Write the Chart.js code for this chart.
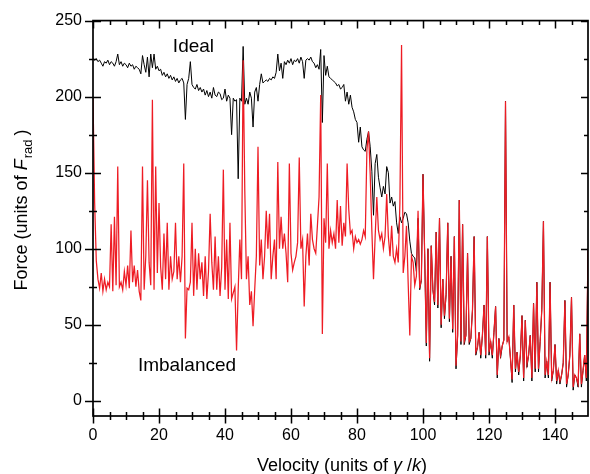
<!DOCTYPE html>
<html>
<head>
<meta charset="utf-8">
<script src="https://cdn.jsdelivr.net/npm/chart.js@4.4.1/dist/chart.umd.min.js"></script>
<style>
html,body{margin:0;padding:0;background:#fff;}
canvas{display:block;}
</style>
</head>
<body>
<canvas id="c" width="590" height="474"></canvas>
<script>
// ---- data (Force in units of F_rad, sampled every 0.5 velocity units from 0 to 150) ----
const velocityStep = 0.5;

const imbalancedForce = [
  200,130,92,80,74,84,72,80,73,78,75,116,72,121,76,154,75,78,73,85,
  76,89,74,112,78,89,75,86,72,66,154,73,95,145,91,76,198,73,154,84,
  130,88,73,110,80,117,73,95,80,85,117,80,95,78,95,156,41,74,73,78,
  117,69,100,73,97,80,91,69,95,67,85,123,91,73,108,73,95,69,88,152,
  73,106,67,117,67,71,75,33,73,106,80,224,138,80,95,63,72,49,73,95,
  167,89,106,80,95,125,100,123,80,95,106,80,157,100,121,100,110,97,78,156,
  97,86,91,95,104,160,100,106,62,95,110,89,123,106,100,97,115,134,201,44,
  120,104,156,100,112,104,110,100,132,104,128,102,117,108,156,126,110,112,100,108,
  104,106,103,106,112,108,165,177,149,112,80,108,134,112,106,110,100,108,136,108,
  95,115,95,91,100,91,130,234,84,95,115,78,43,95,91,76,82,125,74,80,
  149,97,38,100,28,102,73,65,111,63,120,50,80,56,70,117,54,95,47,108,
  23,43,132,39,116,39,43,97,39,41,60,108,32,35,45,30,43,63,30,108,
  32,39,30,45,62,17,41,30,36,40,197,39,42,28,14,63,21,32,19,30,
  56,15,53,24,30,43,15,64,21,78,21,39,60,118,17,26,17,78,15,20,
  37,13,20,13,17,25,66,11,17,30,68,9,17,15,11,44,11,20,30,15,
  100
];

const idealForce = [
  225,224,225,223,224,222,220,223,222,224,221,223,222,220,223,228,221,223,220,222,
  221,219,222,220,221,218,220,219,218,215,227,221,216,226,213,228,219,228,218,220,
  217,218,214,216,213,215,212,214,211,213,210,212,209,211,212,209,185,208,212,223,
  208,206,205,208,204,206,203,205,201,204,200,203,199,206,201,200,203,202,198,199,
  205,197,201,199,175,199,197,198,146,199,197,233,195,199,195,203,199,180,203,206,
  197,208,215,209,210,211,210,212,211,213,212,216,228,217,222,212,223,221,224,222,
  225,221,224,223,225,222,226,223,212,224,225,224,226,223,222,219,221,218,231,183,
  227,214,220,213,212,211,210,209,207,208,205,206,208,197,203,195,201,193,190,185,
  183,170,180,167,165,164,172,177,167,151,122,156,162,147,140,134,141,136,154,150,
  130,134,128,131,117,110,121,117,120,124,123,117,105,97,95,94,85,120,73,79,
  149,97,36,100,26,102,73,63,111,61,120,48,80,54,70,117,52,95,45,108,
  21,43,132,37,116,37,43,97,37,41,60,108,30,35,45,28,43,63,28,108,
  30,39,28,45,62,15,41,28,36,40,197,39,42,28,12,63,19,32,17,30,
  56,13,53,22,30,43,13,64,19,78,19,39,60,118,15,26,15,78,13,20,
  37,11,20,11,17,25,66,9,17,30,68,7,17,15,9,44,9,20,30,13,
  100
];

const xTickLabels = [0,20,40,60,80,100,120,140];
const xMinorTicks = [5,10,15,25,30,35,45,50,55,65,70,75,85,90,95,105,110,115,125,130,135,145];
const yTickLabels = [0,50,100,150,200,250];
const yMinorTicks = [25,75,125,175,225];

const seriesNames = ['Imbalanced','Ideal'];

// ---- build ----
function toPoints(arr){ return arr.map((v,i)=>({x:i*velocityStep, y:v})); }

const FONT = "'Liberation Sans', Arial, sans-serif";

const framePlugin = {
  id:'frame',
  afterDatasetsDraw(chart){
    const ctx = chart.ctx, a = chart.chartArea;
    const xs = chart.scales.x, ys = chart.scales.y;
    ctx.save();
    ctx.strokeStyle = '#000';
    ctx.lineWidth = 1.7;
    ctx.lineCap = 'butt';
    ctx.strokeRect(a.left, a.top, a.right - a.left, a.bottom - a.top);
    ctx.lineWidth = 1.5;
    ctx.beginPath();
    xTickLabels.forEach(v=>{
      const p = Math.round(xs.getPixelForValue(v))+0.5;
      ctx.moveTo(p, a.bottom-7.5); ctx.lineTo(p, a.bottom+7.5);
      ctx.moveTo(p, a.top); ctx.lineTo(p, a.top+8);
    });
    xMinorTicks.forEach(v=>{
      const p = Math.round(xs.getPixelForValue(v))+0.5;
      ctx.moveTo(p, a.bottom-4); ctx.lineTo(p, a.bottom+4);
      ctx.moveTo(p, a.top); ctx.lineTo(p, a.top+4.5);
    });
    yTickLabels.forEach(v=>{
      const p = Math.round(ys.getPixelForValue(v))+0.5;
      ctx.moveTo(a.left-8, p); ctx.lineTo(a.left+8, p);
      ctx.moveTo(a.right, p); ctx.lineTo(a.right-7, p);
    });
    yMinorTicks.forEach(v=>{
      const p = Math.round(ys.getPixelForValue(v))+0.5;
      ctx.moveTo(a.left-4, p); ctx.lineTo(a.left+4, p);
      ctx.moveTo(a.right, p); ctx.lineTo(a.right-4, p);
    });
    ctx.stroke();

    ctx.fillStyle = '#000';
    ctx.font = '19px ' + FONT;
    ctx.textBaseline = 'alphabetic';
    ctx.textAlign = 'left';
    ctx.fillText(seriesNames[1], xs.getPixelForValue(24.2), ys.getPixelForValue(229.5));
    ctx.fillText(seriesNames[0], xs.getPixelForValue(13.6), ys.getPixelForValue(19.5));

    const xParts = [
      {t:'Velocity (units of ', f:'18px '+FONT},
      {t:'\u03B3', f:'italic 18px '+FONT},
      {t:' /', f:'18px '+FONT},
      {t:'k', f:'italic 18px '+FONT},
      {t:')', f:'18px '+FONT}
    ];
    let tot = 0;
    xParts.forEach(p=>{ ctx.font=p.f; p.w = ctx.measureText(p.t).width; tot += p.w; });
    let x = 342 - tot/2;
    xParts.forEach(p=>{ ctx.font=p.f; ctx.fillText(p.t, x, 471); x += p.w; });

    const yParts = [
      {t:'Force (units of ', f:'18px '+FONT, dy:0, gap:0},
      {t:'F', f:'italic 18px '+FONT, dy:0, gap:1},
      {t:'rad', f:'13px '+FONT, dy:4.5, gap:4},
      {t:')', f:'18px '+FONT, dy:0, gap:0}
    ];
    tot = 0;
    yParts.forEach(p=>{ ctx.font=p.f; p.w = ctx.measureText(p.t).width; tot += p.w + p.gap; });
    ctx.translate(27, 210 + tot/2);
    ctx.rotate(-Math.PI/2);
    x = 0;
    yParts.forEach(p=>{ ctx.font=p.f; ctx.fillText(p.t, x, p.dy); x += p.w + p.gap; });
    ctx.restore();
  }
};

new Chart(document.getElementById('c'), {
  type:'line',
  data:{
    datasets:[
      {label:seriesNames[0], data:toPoints(imbalancedForce), borderColor:'#ee1c24', borderWidth:1.25, pointRadius:0, tension:0, order:0},
      {label:seriesNames[1], data:toPoints(idealForce), borderColor:'#000000', borderWidth:1, pointRadius:0, tension:0, order:1}
    ]
  },
  options:{
    responsive:false,
    animation:false,
    devicePixelRatio:1,
    layout:{padding:{left:0,right:2,top:15,bottom:0}},
    plugins:{legend:{display:false}, tooltip:{enabled:false}},
    scales:{
      x:{
        type:'linear', min:0, max:150,
        grid:{display:false, drawTicks:false},
        border:{display:false},
        afterBuildTicks(s){ s.ticks = xTickLabels.map(v=>({value:v})); },
        afterFit(s){ s.height = 58; },
        ticks:{padding:10, color:'#000', font:{family:FONT, size:16}, maxRotation:0, autoSkip:false, callback:v=>String(v)}
      },
      y:{
        type:'linear', min:-10, max:250,
        grid:{display:false, drawTicks:false},
        border:{display:false},
        afterBuildTicks(s){ s.ticks = yTickLabels.map(v=>({value:v})); },
        afterFit(s){ s.width = 93; },
        ticks:{padding:11, color:'#000', font:{family:FONT, size:16}, autoSkip:false, callback:v=>String(v)}
      }
    }
  },
  plugins:[framePlugin]
});
</script>
</body>
</html>
